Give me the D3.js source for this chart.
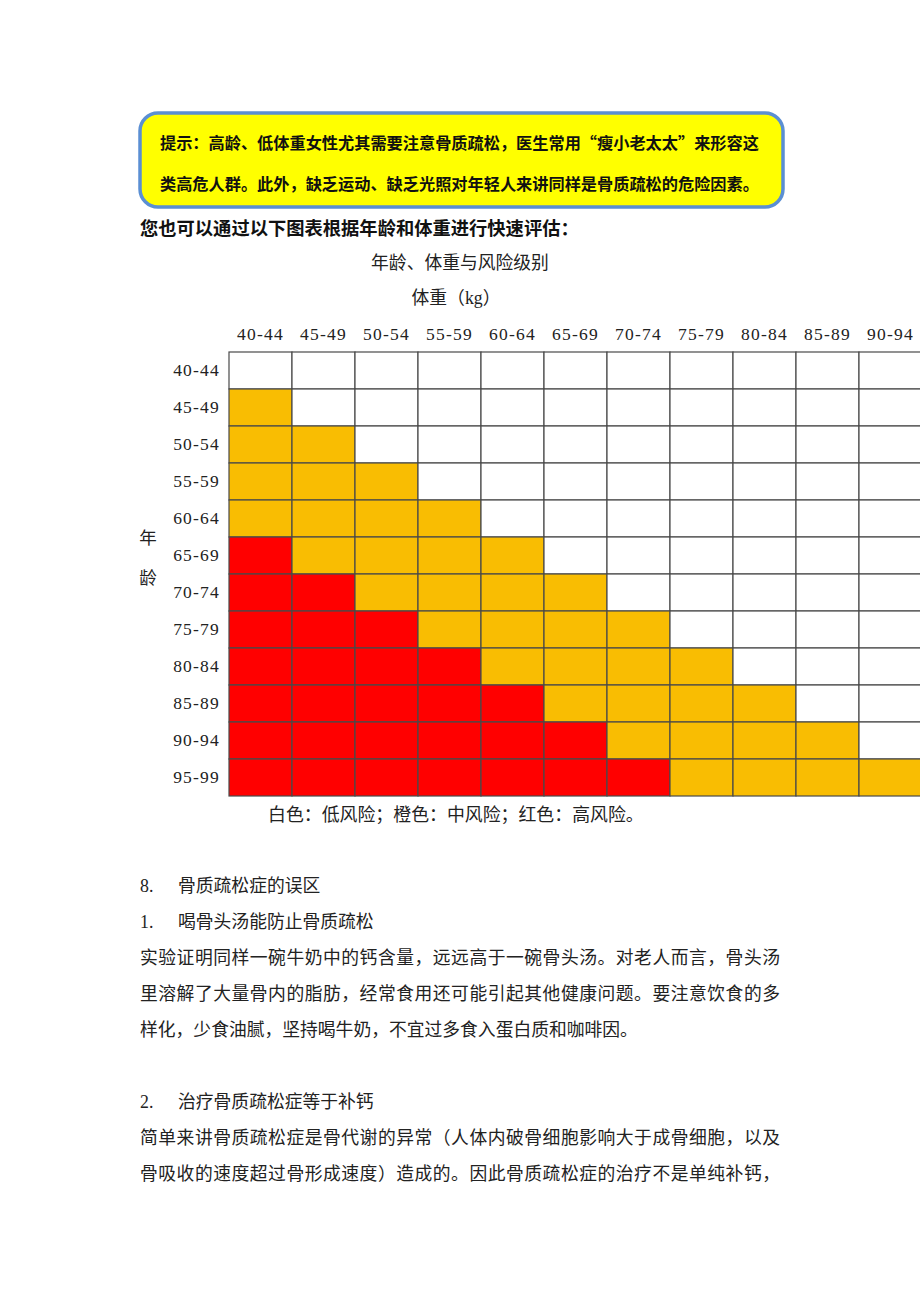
<!DOCTYPE html>
<html><head><meta charset="utf-8">
<script src="https://cdn.jsdelivr.net/npm/d3@7"></script>
<style>
html,body{margin:0;padding:0;background:#fff;}
svg{display:block;}
</style></head>
<body>
<svg id="c" width="920" height="1302"></svg>
<script>
const weights = ["40-44","45-49","50-54","55-59","60-64","65-69","70-74","75-79","80-84","85-89","90-94"];
const ages = ["40-44","45-49","50-54","55-59","60-64","65-69","70-74","75-79","80-84","85-89","90-94","95-99"];
// W = 低风险 (white), O = 中风险 (orange), R = 高风险 (red)
const riskRows = [
  "WWWWWWWWWWW",
  "OWWWWWWWWWW",
  "OOWWWWWWWWW",
  "OOOWWWWWWWW",
  "OOOOWWWWWWW",
  "ROOOOWWWWWW",
  "RROOOOWWWWW",
  "RRROOOOWWWW",
  "RRRROOOOWWW",
  "RRRRROOOOWW",
  "RRRRRROOOOW",
  "RRRRRRROOOO"
];
const riskCodes = ["W","O","R"];
const riskColors = ["#ffffff","#f9bd02","#ff0000"];

const tipLines = ["提示：高龄、低体重女性尤其需要注意骨质疏松，医生常用“瘦小老太太”来形容这",
                  "类高危人群。此外，缺乏运动、缺乏光照对年轻人来讲同样是骨质疏松的危险因素。"];
const introText = "您也可以通过以下图表根据年龄和体重进行快速评估：";
const chartTitle = "年龄、体重与风险级别";
const xTitle = "体重（kg）";
const yTitle = ["年","龄"];
const legendText = "白色：低风险；橙色：中风险；红色：高风险。";
const bodyLines = [
  {num:"8.", text:"骨质疏松症的误区"},
  {num:"1.", text:"喝骨头汤能防止骨质疏松"},
  {text:"实验证明同样一碗牛奶中的钙含量，远远高于一碗骨头汤。对老人而言，骨头汤", just:true},
  {text:"里溶解了大量骨内的脂肪，经常食用还可能引起其他健康问题。要注意饮食的多", just:true},
  {text:"样化，少食油腻，坚持喝牛奶，不宜过多食入蛋白质和咖啡因。"},
  {gap:true},
  {num:"2.", text:"治疗骨质疏松症等于补钙"},
  {text:"简单来讲骨质疏松症是骨代谢的异常（人体内破骨细胞影响大于成骨细胞，以及", just:true},
  {text:"骨吸收的速度超过骨形成速度）造成的。因此骨质疏松症的治疗不是单纯补钙，", just:true}
];

const svg = d3.select("#c");
const FONT = "'Liberation Serif','Noto Sans CJK SC',serif";
const BOLD = "'Noto Sans CJK SC','Liberation Serif',sans-serif";
svg.append("rect").attr("width",920).attr("height",1302).attr("fill","#fff");

// tip box
svg.append("rect").attr("x",140).attr("y",113).attr("width",643).attr("height",94)
  .attr("rx",18).attr("ry",18).attr("fill","#ffff00").attr("stroke","#5b8fd3").attr("stroke-width",3.5);
svg.selectAll("text.tip").data(tipLines).join("text").attr("class","tip")
  .attr("x",160).attr("y",(d,i)=>149+i*41)
  .attr("font-family",BOLD).attr("font-weight","bold").attr("font-size",16.2)
  .attr("fill","#111").text(d=>d);

svg.append("text").attr("x",140).attr("y",235)
  .attr("font-family",BOLD).attr("font-weight","bold").attr("font-size",18.3)
  .attr("fill","#111").text(introText);

// chart
const x = d3.scaleBand().domain(weights).range([229,922]);
const y = d3.scaleBand().domain(ages).range([352,796]);
const color = d3.scaleOrdinal().domain(riskCodes).range(riskColors);

svg.append("text").attr("x",460).attr("y",269).attr("text-anchor","middle")
  .attr("font-family",FONT).attr("font-size",17.8).attr("fill","#222").text(chartTitle);
svg.append("text").attr("x",456).attr("y",304).attr("text-anchor","middle")
  .attr("font-family",FONT).attr("font-size",17.8).attr("fill","#222").text(xTitle);

const cells = [];
ages.forEach((a,i)=>weights.forEach((w,j)=>cells.push({age:a, weight:w, risk:riskRows[i][j]})));

svg.append("g").selectAll("rect").data(cells).join("rect")
  .attr("x",d=>x(d.weight)).attr("y",d=>y(d.age))
  .attr("width",x.bandwidth()).attr("height",y.bandwidth())
  .attr("fill",d=>color(d.risk))
  .attr("stroke","#4a4a4a").attr("stroke-width",1.2);

// axes
const xAxis = svg.append("g").attr("transform","translate(0,352)")
  .call(d3.axisTop(x).tickSize(0).tickPadding(12));
xAxis.select(".domain").remove();
xAxis.selectAll("text").attr("font-family",FONT).attr("font-size",17.5)
  .attr("letter-spacing","1.2px").attr("fill","#222");

const yAxis = svg.append("g").attr("transform","translate(229,0)")
  .call(d3.axisLeft(y).tickSize(0).tickPadding(9));
yAxis.select(".domain").remove();
yAxis.selectAll("text").attr("font-family",FONT).attr("font-size",17.5)
  .attr("letter-spacing","1.2px").attr("fill","#222");

svg.selectAll("text.yt").data(yTitle).join("text").attr("class","yt")
  .attr("x",148).attr("y",(d,i)=>544+i*40).attr("text-anchor","middle")
  .attr("font-family",FONT).attr("font-size",17.5).attr("fill","#222").text(d=>d);

svg.append("text").attr("x",268).attr("y",821)
  .attr("font-family",FONT).attr("font-size",17.9).attr("fill","#222").text(legendText);

// body text
let yy = 892;
bodyLines.forEach(l=>{
  if(l.gap){ yy += 36; return; }
  if(l.num){
    svg.append("text").attr("x",140).attr("y",yy).attr("font-family",FONT).attr("font-size",17.8)
      .attr("fill","#222").text(l.num);
    svg.append("text").attr("x",178).attr("y",yy).attr("font-family",FONT).attr("font-size",17.8)
      .attr("fill","#222").text(l.text);
  } else {
    const t = svg.append("text").attr("x",140).attr("y",yy).attr("font-family",FONT).attr("font-size",17.8)
      .attr("fill","#222").text(l.text);
    if(l.just) t.attr("textLength",640).attr("lengthAdjust","spacing");
  }
  yy += 36;
});
</script>
</body></html>
